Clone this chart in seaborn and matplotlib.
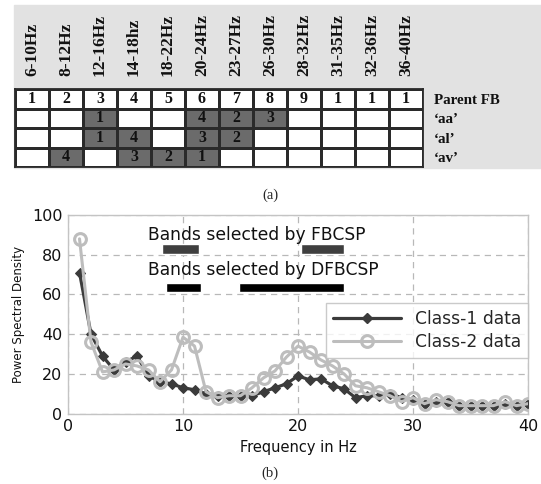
import numpy as np
import pandas as pd
import matplotlib
matplotlib.use("Agg")
import matplotlib.pyplot as plt
from matplotlib.colors import ListedColormap
from matplotlib.patches import Rectangle
from matplotlib.lines import Line2D
import seaborn as sns

# ── data: table (a) ─────────────────────────────────────────────────────────
bands = ["6-10Hz", "8-12Hz", "12-16Hz", "14-18hz", "18-22Hz", "20-24Hz",
         "23-27Hz", "26-30Hz", "28-32Hz", "31-35Hz", "32-36Hz", "36-40Hz"]
row_names = ["Parent FB", "\u2018aa\u2019", "\u2018al\u2019", "\u2018av\u2019"]
parent_fb = ["1", "2", "3", "4", "5", "6", "7", "8", "9", "1", "1", "1"]
rank_aa = ["", "", "1", "", "", "4", "2", "3", "", "", "", ""]
rank_al = ["", "", "1", "4", "", "3", "2", "", "", "", "", ""]
rank_av = ["", "4", "", "3", "2", "1", "", "", "", "", "", ""]

# ── data: PSD (b) ───────────────────────────────────────────────────────────
freq = list(range(1, 41))
class1 = [71, 40, 29, 22, 26, 29, 19, 16, 15, 13, 12, 10, 9, 9, 9, 9, 11, 13, 15, 19,
          17, 17.5, 14, 12.5, 8, 9, 9, 10, 8, 7, 5, 6, 6, 4, 4, 4, 4, 5, 4, 5]
class2 = [88, 36, 21, 22, 25, 24, 22, 16, 22, 38.5, 34, 11, 8, 9, 9, 13, 18, 21.5, 28.5, 34,
          31, 27, 24, 20, 14, 13, 11, 9, 6, 8, 5, 7, 6, 4, 4, 4, 4, 6, 4, 5]
fbcsp_bands = [(8.2, 11.4), (20.3, 24.0)]
dfbcsp_bands = [(8.5, 11.6), (14.9, 24.0)]

sns.set_style("white")
plt.rcParams["font.family"] = ["DejaVu Sans"]

W, H = 541, 484
fig = plt.figure(figsize=(W / 100, H / 100), dpi=100)

# grey backdrop behind the table
fig.patches.append(Rectangle((14 / W, 1 - 168 / H), 1 - 14 / W, 163 / H,
                             transform=fig.transFigure, color="#e2e2e2", zorder=-10))

# ── table (a) as a heatmap ──────────────────────────────────────────────────
cells = [parent_fb, rank_aa, rank_al, rank_av]
shade = np.array([[1.0 if (r > 0 and v) else 0.0 for v in row] for r, row in enumerate(cells)])
annot = np.array(cells)

axt = fig.add_axes([15 / W, 1 - 167 / H, 408 / W, 78 / H])
sns.heatmap(shade, ax=axt, cmap=ListedColormap(["white", "#6b6b6b"]), vmin=0, vmax=1,
            cbar=False, annot=annot, fmt="", linewidths=1, linecolor="#2a2a2a",
            xticklabels=bands, yticklabels=row_names,
            annot_kws={"color": "#111111", "fontweight": "bold",
                       "family": "Liberation Serif", "fontsize": 11.5})
axt.xaxis.tick_top()
axt.yaxis.tick_right()
axt.tick_params(axis="x", rotation=90, length=0, pad=9.5)
axt.tick_params(axis="y", rotation=0, length=0, pad=8)
for lab in axt.get_xticklabels():
    lab.set_fontsize(12.5)
for lab in axt.get_yticklabels():
    lab.set_fontsize(10.8)
    lab.set_ha("left")
for lab in axt.get_xticklabels() + axt.get_yticklabels():
    lab.set_family("Liberation Serif")
    lab.set_fontweight("bold")
    lab.set_color("#111111")
for s in axt.spines.values():
    s.set_visible(True)
    s.set_color("#2a2a2a")
    s.set_linewidth(1.3)

fig.text(270 / W, 1 - 195 / H, "(a)", ha="center", va="center",
         family="Liberation Serif", fontsize=10.5)

# ── PSD plot (b) ────────────────────────────────────────────────────────────
ax = fig.add_axes([68 / W, 1 - 413.6 / H, 460 / W, 198.6 / H])
df = pd.DataFrame({"freq": freq, "c1": class1, "c2": class2})

c1_color = "#3b3b3b"
c2_color = "#bdbdbd"
sns.lineplot(data=df, x="freq", y="c1", ax=ax, color=c1_color, linewidth=2.3,
             marker="D", markersize=5, markeredgecolor=c1_color, zorder=3)
sns.lineplot(data=df, x="freq", y="c2", ax=ax, color=c2_color, linewidth=2.2,
             marker="o", markersize=8.5, markerfacecolor="none",
             markeredgecolor=c2_color, markeredgewidth=2.2, zorder=4)

for lo, hi in fbcsp_bands:
    ax.barh(83, hi - lo, left=lo, height=5, color="#3f3f3f", zorder=5)
for lo, hi in dfbcsp_bands:
    ax.barh(63.5, hi - lo, left=lo, height=5, color="black", zorder=5)
ax.text(7.0, 90, "Bands selected by FBCSP", fontsize=12.3, va="center", color="#111111")
ax.text(7.0, 72.5, "Bands selected by DFBCSP", fontsize=12.3, va="center", color="#111111")

ax.set_xlim(0, 40)
ax.set_ylim(0, 100)
ax.set_xticks([0, 10, 20, 30, 40])
ax.set_yticks([0, 20, 40, 60, 80, 100])
ax.grid(True, linestyle=(0, (5, 4)), color="#b8b8b8", linewidth=0.9)
ax.tick_params(length=0, labelsize=11.5, labelcolor="#111111", pad=4)
for s in ax.spines.values():
    s.set_color("#c4c4c4")
    s.set_linewidth(1)
ax.set_xlabel("Frequency in Hz", fontsize=10.5, color="#111111", labelpad=4)
ax.set_ylabel("Power Spectral Density", fontsize=8.5, color="#111111", labelpad=5)

handles = [
    Line2D([], [], color=c1_color, linewidth=2.3, marker="D", markersize=5),
    Line2D([], [], color=c2_color, linewidth=2.2, marker="o", markersize=8.5,
           markerfacecolor="none", markeredgewidth=2.2),
]
leg = ax.legend(handles, ["Class-1 data", "Class-2 data"], loc="upper right",
                bbox_to_anchor=(1.0, 0.555), fontsize=12.3, frameon=True,
                fancybox=False, edgecolor="#bdbdbd", handlelength=4.0,
                borderpad=0.4, labelspacing=0.3, borderaxespad=0)
leg.get_frame().set_linewidth(1)

fig.text(270 / W, 1 - 473 / H, "(b)", ha="center", va="center",
         family="Liberation Serif", fontsize=10.5)

fig.savefig("out.png", dpi=100)
